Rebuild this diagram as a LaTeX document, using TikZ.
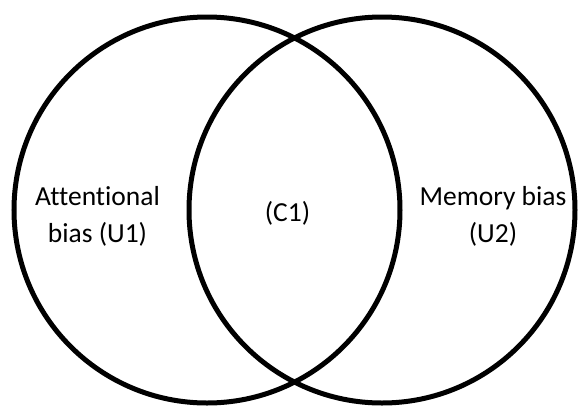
\documentclass[tikz,border=0pt]{standalone}
\usepackage{fontspec}
\setmainfont[Ligatures=NoCommon]{Carlito}
\begin{document}
\begin{tikzpicture}[x=1pt,y=-1pt,
  ring/.style={draw=black,line width=5pt},
  lbl/.style={align=center,font=\fontsize{27.5}{37}\selectfont,inner sep=0pt}]
\useasboundingbox (0,0) rectangle (579,408);
\draw[ring] (207,210) circle[radius=193];
\draw[ring] (382,210) circle[radius=193];
\node[lbl] (u1) at (97.5,216) {Attentional\\bias (U1)};
\node[lbl] (c1) at (287.5,213) {(C1)};
\node[lbl] (u2) at (493,216) {Memory bias\\(U2)};
\end{tikzpicture}
\end{document}
